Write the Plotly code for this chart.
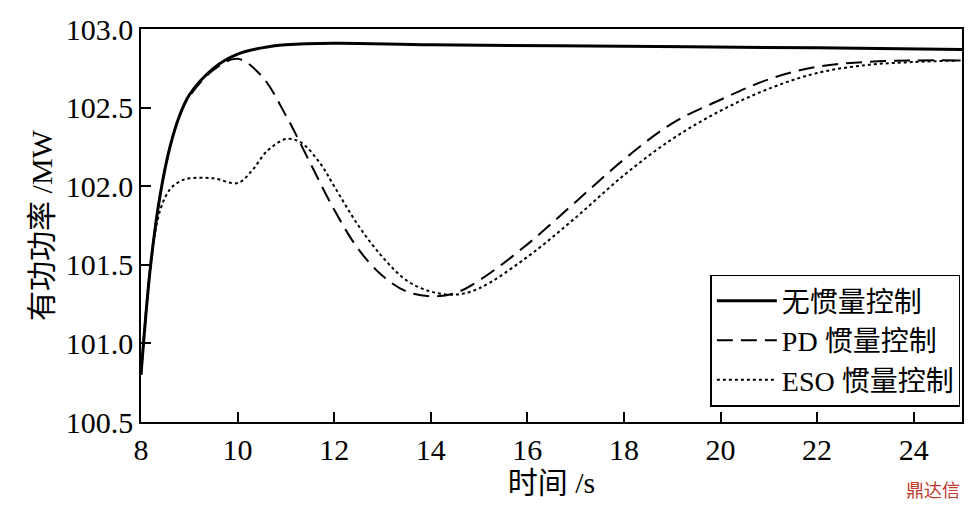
import plotly.graph_objects as go

t_solid = [8, 8.2, 8.4, 8.6, 8.8, 9, 9.5, 10, 10.5, 11, 12, 14, 18, 22, 25]
p_solid = [100.8, 101.5, 101.95, 102.25, 102.45, 102.58, 102.75, 102.84, 102.88, 102.9, 102.91, 102.9, 102.89, 102.88, 102.87]

t_pd = [8, 8.2, 8.4, 8.6, 8.8, 9, 9.5, 10, 10.5, 11, 11.5, 12, 12.5, 13, 13.5, 14, 14.5, 15, 16, 17, 18, 19, 20, 21, 22, 23, 24, 25]
p_pd = [100.8, 101.5, 101.95, 102.25, 102.45, 102.57, 102.74, 102.81, 102.7, 102.45, 102.15, 101.85, 101.6, 101.43, 101.33, 101.3, 101.32, 101.4, 101.63, 101.9, 102.17, 102.4, 102.55, 102.68, 102.76, 102.79, 102.8, 102.8]

t_eso = [8, 8.2, 8.4, 8.6, 8.8, 9, 9.5, 10, 10.3, 10.6, 11, 11.3, 11.7, 12, 12.5, 13, 13.5, 14, 14.5, 15, 16, 17, 18, 19, 20, 21, 22, 23, 24, 25]
p_eso = [100.8, 101.5, 101.85, 101.98, 102.03, 102.05, 102.05, 102.02, 102.1, 102.22, 102.3, 102.28, 102.15, 102.0, 101.75, 101.55, 101.4, 101.33, 101.31, 101.35, 101.55, 101.8, 102.07, 102.3, 102.48, 102.62, 102.72, 102.77, 102.79, 102.8]

FONT = "Liberation Serif, Noto Sans CJK SC"

fig = go.Figure()
fig.add_trace(go.Scatter(x=t_solid, y=p_solid, mode="lines", name="无惯量控制",
                         line=dict(color="black", width=3, shape="spline")))
fig.add_trace(go.Scatter(x=t_pd, y=p_pd, mode="lines", name="PD 惯量控制",
                         line=dict(color="black", width=2, dash="16px,8px", shape="spline")))
fig.add_trace(go.Scatter(x=t_eso, y=p_eso, mode="lines", name="ESO 惯量控制",
                         line=dict(color="black", width=2, dash="dot", shape="spline")))

axis_common = dict(showline=True, linecolor="black", linewidth=1.5, mirror=True,
                   ticks="inside", ticklen=10, tickwidth=1.5, tickcolor="black",
                   showgrid=False, zeroline=False,
                   tickfont=dict(size=30, family=FONT, color="black"))

fig.update_layout(
    width=960, height=500,
    margin=dict(l=133, r=4, t=20, b=86),
    plot_bgcolor="white", paper_bgcolor="white",
    font=dict(family=FONT, color="black"),
    xaxis=dict(range=[8, 25], tickvals=[8, 10, 12, 14, 16, 18, 20, 22, 24],
               title=dict(text="时间 /s", font=dict(size=30), standoff=6), **axis_common),
    yaxis=dict(range=[100.5, 103.0], tickvals=[100.5, 101.0, 101.5, 102.0, 102.5, 103.0],
               ticktext=["100.5", "101.0", "101.5", "102.0", "102.5", "103.0"],
               title=dict(text="有功功率 /MW", font=dict(size=30), standoff=4),
               **axis_common),
    legend=dict(x=0.998, y=0.375, xanchor="right", yanchor="top", bgcolor="white",
                bordercolor="black", borderwidth=1.5, tracegroupgap=0, itemwidth=60,
                font=dict(size=28, family=FONT)),
)
fig.add_annotation(text="鼎达信", xref="paper", yref="paper", x=1.0, y=-0.17, showarrow=False,
                   xanchor="right", yanchor="middle",
                   font=dict(size=18, color="#c0392b", family="Noto Sans CJK SC"))

fig.write_html("out.html")
